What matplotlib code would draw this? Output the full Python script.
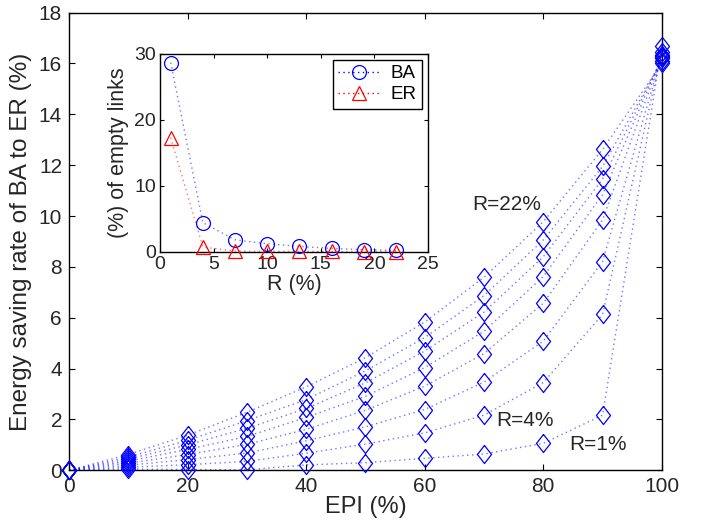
import matplotlib
matplotlib.use('Agg')
import matplotlib.pyplot as plt
import numpy as np

plt.rcParams['font.family'] = ['Liberation Sans', 'DejaVu Sans']

# main chart data: energy saving rate vs EPI, one series per R
epi = [0, 10, 20, 30, 40, 50, 60, 70, 80, 90, 100]
r_labels = ['1%', '4%', '7%', '10%', '13%', '16%', '19%', '22%']
saving = {
    '1%':  [0, 0.05, 0.03, 0.02, 0.21, 0.30, 0.47, 0.64, 1.06, 2.17, 16.70],
    '4%':  [0, 0.12, 0.22, 0.35, 0.67, 1.03, 1.47, 2.17, 3.45, 6.13, 16.45],
    '7%':  [0, 0.20, 0.42, 0.68, 1.16, 1.71, 2.39, 3.47, 5.08, 8.21, 16.35],
    '10%': [0, 0.28, 0.62, 1.02, 1.61, 2.36, 3.31, 4.59, 6.57, 9.85, 16.30],
    '13%': [0, 0.36, 0.82, 1.33, 2.08, 2.91, 4.04, 5.47, 7.62, 10.84, 16.25],
    '16%': [0, 0.44, 1.00, 1.65, 2.43, 3.44, 4.69, 6.22, 8.40, 11.45, 16.20],
    '19%': [0, 0.52, 1.18, 1.95, 2.78, 3.91, 5.22, 6.87, 9.06, 11.95, 16.10],
    '22%': [0, 0.62, 1.38, 2.28, 3.28, 4.43, 5.83, 7.59, 9.78, 12.62, 16.00],
}

# inset data: share of empty links vs R
r_vals = [1, 4, 7, 10, 13, 16, 19, 22]
empty_ba = [28.7, 4.4, 1.8, 1.2, 0.8, 0.5, 0.3, 0.2]
empty_er = [17.3, 0.7, 0.1, 0.05, 0.05, 0.03, 0.02, 0.02]

text_color = '#262626'
diamond = [(0, 1), (0.78, 0), (0, -1), (-0.78, 0), (0, 1)]
dots = (0, (1, 2.5))

fig = plt.figure(figsize=(7.13, 5.24), dpi=100)
ax = fig.add_axes([0.0968, 0.1025, 0.8315, 0.8735])

for r in r_labels:
    ax.plot(epi, saving[r], linestyle=dots, color='blue', lw=1, alpha=0.55)
    ax.plot(epi, saving[r], linestyle='none', marker=diamond, ms=13,
            mfc='none', mec='blue', mew=0.9, clip_on=False, zorder=3)

ax.set_xlim(0, 100)
ax.set_ylim(0, 18)
ax.set_xticks(np.arange(0, 101, 20))
ax.set_yticks(np.arange(0, 19, 2))
ax.tick_params(direction='in', top=True, right=True, length=4,
               labelsize=15, colors='black', labelcolor=text_color, pad=5)
for s in ax.spines.values():
    s.set_linewidth(1.0)
ax.set_xlabel('EPI (%)', fontsize=17, color=text_color, labelpad=0)
ax.set_ylabel('Energy saving rate of BA to ER (%)', fontsize=17.5,
              color=text_color, labelpad=5)

ax.text(68, 10.44, 'R=22%', fontsize=15, color=text_color, va='center')
ax.text(72.05, 1.95, 'R=4%', fontsize=15, color=text_color, va='center')
ax.text(84.3, 1.0, 'R=1%', fontsize=15, color=text_color, va='center')

# inset
ins = fig.add_axes([0.2244, 0.5197, 0.3759, 0.3773])
ins.plot(r_vals, empty_ba, linestyle=dots, color='blue', lw=1, alpha=0.55)
ins.plot(r_vals, empty_er, linestyle=dots, color='red', lw=1, alpha=0.55)
ins.plot(r_vals, empty_ba, linestyle='none', marker='o', ms=10,
         mfc='none', mec='blue', mew=0.9, clip_on=False, zorder=3)
ins.plot(r_vals, empty_er, linestyle='none', marker='^', ms=10,
         mfc='none', mec='red', mew=0.9, clip_on=False, zorder=3)
h_ba, = ins.plot([], [], linestyle=dots, color='blue', lw=1, marker='o',
                 ms=10, mfc='none', mec='blue', mew=0.9)
h_er, = ins.plot([], [], linestyle=dots, color='red', lw=1, marker='^',
                 ms=10, mfc='none', mec='red', mew=0.9)
ins.set_xlim(0, 25)
ins.set_ylim(0, 30)
ins.set_xticks(np.arange(0, 26, 5))
ins.set_yticks([0, 10, 20, 30])
ins.tick_params(direction='in', top=True, right=True, length=3,
                labelsize=14, labelcolor=text_color, pad=3)
for s in ins.spines.values():
    s.set_linewidth(1.0)
ins.set_xlabel('R (%)', fontsize=15.5, color=text_color, labelpad=1)
ins.set_ylabel('(%) of empty links', fontsize=15.5, color=text_color,
               labelpad=4)
leg = ins.legend([h_ba, h_er], ['BA', 'ER'], loc='upper right', fontsize=13.5,
                 fancybox=False, edgecolor='black', framealpha=1,
                 handlelength=2.2, borderpad=0.3, labelspacing=0.2,
                 handletextpad=0.6, borderaxespad=0.3)
leg.get_frame().set_linewidth(1.0)

fig.savefig('out.png', dpi=100)
